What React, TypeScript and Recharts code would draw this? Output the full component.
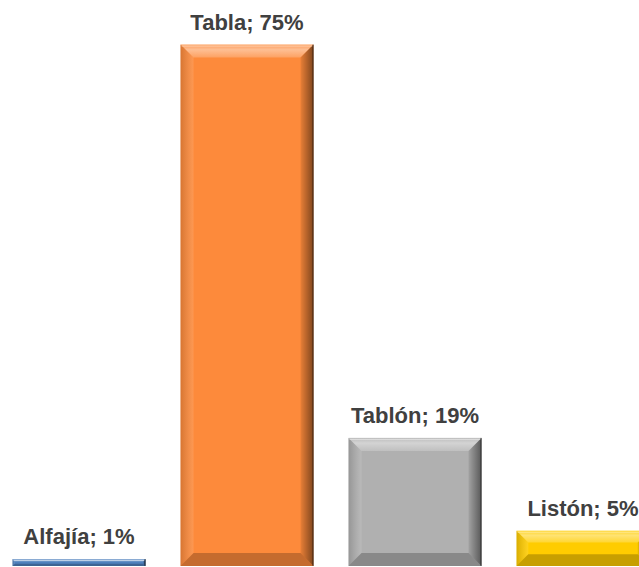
import React from 'react';
import { BarChart, Bar, XAxis, YAxis, Cell, LabelList } from 'recharts';

// ============================================================================
// Data
// ============================================================================

const categories = ['Alfajía', 'Tabla', 'Tablón', 'Listón'];
const shares = [1.0, 75.3, 18.5, 5.1];
const barColors = ['#4f81bd', '#fd8a3b', '#b0b0b0', '#ffcc00'];

const data = categories.map((name, i) => ({ name, value: shares[i], color: barColors[i] }));

// ============================================================================
// Bevelled bar shape
// ============================================================================

function BevelBar(props: any) {
  const { x, y, width: w, height: h, fill } = props;
  if (!w || !h || h <= 0) return null;
  const b = Math.min(13, h / 3, w / 2);
  return (
    <g>
      <rect x={x} y={y} width={w} height={h} fill={fill} />
      {/* top */}
      <polygon
        points={`${x},${y} ${x + w},${y} ${x + w - b},${y + b} ${x + b},${y + b}`}
        fill="url(#bevTop)"
      />
      {/* left */}
      <polygon
        points={`${x},${y} ${x + b},${y + b} ${x + b},${y + h - b} ${x},${y + h}`}
        fill="url(#bevLeft)"
      />
      {/* right */}
      <polygon
        points={`${x + w},${y} ${x + w},${y + h} ${x + w - b},${y + h - b} ${x + w - b},${y + b}`}
        fill="url(#bevRight)"
      />
      {/* bottom */}
      <polygon
        points={`${x},${y + h} ${x + w},${y + h} ${x + w - b},${y + h - b} ${x + b},${y + h - b}`}
        fill="#000000"
        fillOpacity={0.22}
      />
      <line x1={x + 1} y1={y + 1.5} x2={x + w - 1} y2={y + 1.5} stroke="#ffffff" strokeOpacity={0.45} />
      <line x1={x + w - 0.5} y1={y} x2={x + w - 0.5} y2={y + h} stroke="#000000" strokeOpacity={0.55} />
    </g>
  );
}

function BarLabel(props: any) {
  const { x, y, width, index } = props;
  const text = `${categories[index]}; ${Math.round(shares[index])}%`;
  return (
    <text
      x={x + width / 2}
      y={y - 15}
      textAnchor="middle"
      fontSize={22}
      fontWeight="bold"
      fontFamily="'Liberation Sans', Arial, sans-serif"
      fill="#404040"
    >
      {text}
    </text>
  );
}

// ============================================================================
// Component
// ============================================================================

export default function App() {
  return (
    <div
      style={{
        position: 'fixed',
        left: 0,
        top: 0,
        width: 639,
        height: 567,
        overflow: 'hidden',
        background: '#ffffff',
      }}
    >
      <div style={{ position: 'absolute', left: -5.5, top: 0 }}>
        <BarChart
          width={672}
          height={567}
          data={data}
          margin={{ top: 12, right: 0, bottom: 1, left: 0 }}
          barCategoryGap={17.5}
        >
          <defs>
            <linearGradient id="bevTop" x1="0" y1="0" x2="0" y2="1">
              <stop offset="0%" stopColor="#ffffff" stopOpacity={0.15} />
              <stop offset="40%" stopColor="#ffffff" stopOpacity={0.45} />
              <stop offset="100%" stopColor="#ffffff" stopOpacity={0.2} />
            </linearGradient>
            <linearGradient id="bevLeft" x1="0" y1="0" x2="1" y2="0">
              <stop offset="0%" stopColor="#000000" stopOpacity={0.15} />
              <stop offset="100%" stopColor="#ffffff" stopOpacity={0.12} />
            </linearGradient>
            <linearGradient id="bevRight" x1="0" y1="0" x2="1" y2="0">
              <stop offset="0%" stopColor="#000000" stopOpacity={0.08} />
              <stop offset="100%" stopColor="#000000" stopOpacity={0.5} />
            </linearGradient>
          </defs>
          <XAxis dataKey="name" hide />
          <YAxis domain={[0, 80]} hide />
          <Bar dataKey="value" shape={<BevelBar />} isAnimationActive={false}>
            {data.map((d) => (
              <Cell key={d.name} fill={d.color} />
            ))}
            <LabelList dataKey="value" content={<BarLabel />} />
          </Bar>
        </BarChart>
      </div>
    </div>
  );
}
